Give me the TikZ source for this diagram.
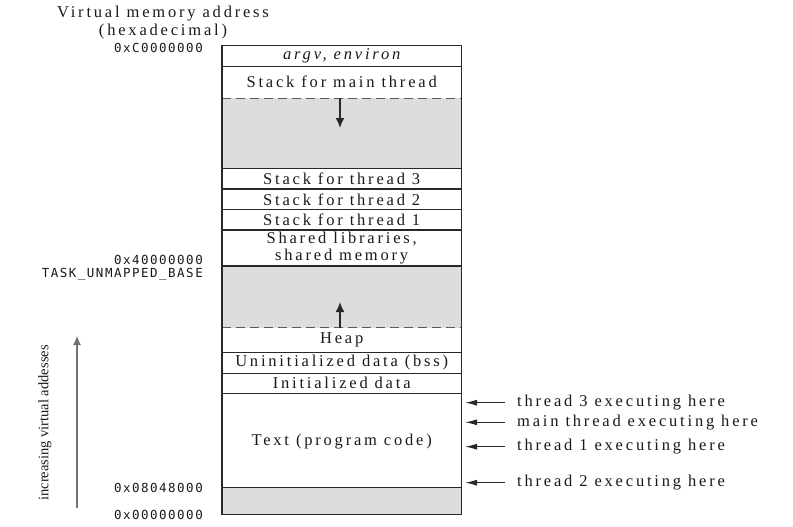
\documentclass[tikz,border=0pt]{standalone}
\usepackage{fontspec}
\usetikzlibrary{arrows.meta}
\newfontfamily\rowfont{Liberation Serif}[LetterSpace=17]
\newfontfamily\plainserif{Liberation Serif}
\newfontfamily\addrfont{DejaVu Sans Mono}[LetterSpace=12]
\definecolor{gfill}{RGB}{220,221,223}
\definecolor{ink}{RGB}{40,40,40}
\definecolor{txt}{RGB}{25,25,25}
\begin{document}
\begin{tikzpicture}[x=1pt,y=-1pt,
  row/.style={font=\rowfont\fontsize{16.5}{17}\selectfont, text=txt, inner sep=0pt, align=center},
  addr/.style={font=\addrfont\fontsize{12.5}{13}\selectfont, anchor=east, inner sep=0pt, text=txt},
  lbl/.style={font=\rowfont\fontsize{16.5}{17}\selectfont, anchor=west, inner ysep=0pt, inner xsep=12pt, text=txt},
  arr/.style={-{Latex[length=12pt,width=6pt]}, line width=1.2pt, draw=ink},
  inarr/.style={-{Latex[length=10pt,width=9pt]}, line width=1.6pt, draw=ink},
  sep/.style={line width=1.1pt, draw=ink},
  dsh/.style={line width=1.3pt, dash pattern=on 9pt off 5pt, draw=black!65}]
\useasboundingbox (0,0) rectangle (793,527);

% gray regions
\fill[gfill] (222,98.3) rectangle (461.5,168.3);
\fill[gfill] (222,266) rectangle (461.5,327.7);
\fill[gfill] (222,487.7) rectangle (461.5,514.3);

% separators
\foreach \yy in {66.3,168.3,189,209.7,230,266,352.7,373.3,393.3,487.7}
  \draw[sep] (222,\yy) -- (461.5,\yy);
\draw[dsh] (222,98.3) -- (461.5,98.3);
\draw[dsh] (222,327.7) -- (461.5,327.7);
\draw[line width=1.4pt, draw=ink] (222,45.7) rectangle (461.5,514.3);

% row texts
\node[row] (argv) at (341.7,56) {\itshape argv, environ};
\node[row] (smain) at (341.7,81.7) {Stack for main thread};
\node[row] (s3) at (341.7,178.7) {Stack for thread 3};
\node[row] (s2) at (341.7,199.3) {Stack for thread 2};
\node[row] (s1) at (341.7,219.9) {Stack for thread 1};
\node[row] (shared) at (341.7,248) {Shared libraries,\\shared memory};
\node[row] (heap) at (341.7,340.2) {Heap};
\node[row] (bss) at (341.7,363) {Uninitialized data (bss)};
\node[row] (init) at (341.7,383.3) {Initialized data};
\node[row] (text) at (341.7,441.7) {Text (program code)};

% inner arrows
\coordinate (dtop) at (340,98.3);
\coordinate (dbot) at (340,128);
\draw[inarr] (dtop) -- (dbot);
\coordinate (ubot) at (340,327.7);
\coordinate (utop) at (340,302);
\draw[inarr] (ubot) -- (utop);

% title and addresses
\node[row, font=\rowfont\fontsize{16.5}{18}\selectfont] (title) at (163,23) {Virtual memory address\\(hexadecimal)};
\node[addr] (aC) at (203,48) {0xC0000000};
\node[addr] (a4) at (203,260) {0x40000000};
\node[addr] (atask) at (203,274.7) {TASK\_UNMAPPED\_BASE};
\node[addr] (a08) at (203,488) {0x08048000};
\node[addr] (a00) at (203,515) {0x00000000};

% increasing arrow
\coordinate (incb) at (77,508);
\coordinate (inct) at (77,336);
\draw[-{Latex[length=9pt,width=8pt]}, line width=1.1pt, draw=black!55] (incb) -- (inct);
\node[font=\plainserif\fontsize{14.5}{16}\selectfont, rotate=90, text=txt, inner sep=0pt] (inc) at (45,423) {increasing virtual addesses};

% thread pointers
\node[lbl] (l3) at (505,402.7) {thread 3 executing here};
\node[lbl] (lm) at (505,422.3) {main thread executing here};
\node[lbl] (l1) at (505,446.7) {thread 1 executing here};
\node[lbl] (l2) at (505,482.7) {thread 2 executing here};
\coordinate (t3) at (465,402.7);
\coordinate (tm) at (465,422.3);
\coordinate (t1) at (465,446.7);
\coordinate (t2) at (465,482.7);
\draw[arr] (l3.west) -- (t3);
\draw[arr] (lm.west) -- (tm);
\draw[arr] (l1.west) -- (t1);
\draw[arr] (l2.west) -- (t2);
\end{tikzpicture}
\end{document}
